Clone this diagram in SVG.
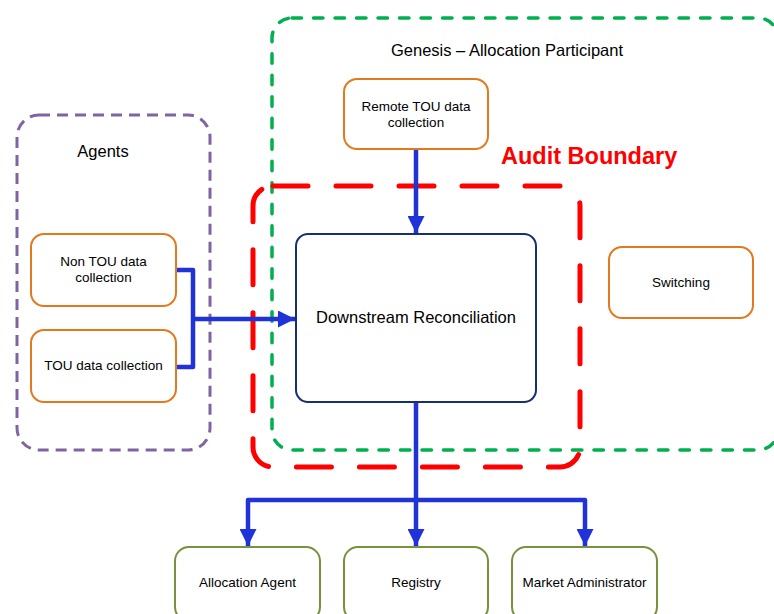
<svg xmlns="http://www.w3.org/2000/svg" width="774" height="614" viewBox="0 0 774 614">
<style>
text{font-family:"Liberation Sans",Arial,sans-serif;fill:#000;text-anchor:middle}
.t13{font-size:13.5px}
.t16{font-size:16.5px}
.audit{font-size:23.5px;font-weight:bold;fill:#FF0000;text-anchor:start}
.orange{fill:#fff;stroke:#E3791E;stroke-width:2}
.olive{fill:#fff;stroke:#76923C;stroke-width:2}
.navy{fill:#fff;stroke:#17306E;stroke-width:2}
.green{fill:none;stroke:#00B050;stroke-width:3.5;stroke-dasharray:9.5 12;stroke-linecap:round}
.red{fill:none;stroke:#FF0000;stroke-width:5;stroke-dasharray:35 28;stroke-linecap:round}
.purple{fill:none;stroke:#8064A2;stroke-width:3;stroke-dasharray:11 7}
.conn{fill:none;stroke:#1F33D8;stroke-width:4.5;stroke-linejoin:round}
</style>
<defs>
<marker id="ah" markerUnits="userSpaceOnUse" markerWidth="17" markerHeight="17" refX="17" refY="8.5" orient="auto">
<path d="M0,0 L17,8.5 L0,17 z" fill="#1F33D8"/>
</marker>
</defs>
<g id="boundaries">
<rect id="genesis-boundary" class="green" x="272" y="18" width="506" height="432" rx="20"/>
<rect id="agents-boundary" class="purple" x="17" y="115" width="193" height="335" rx="22"/>
<rect id="audit-boundary" class="red" x="253" y="186" width="327" height="281" rx="20"/>
<text class="t16" x="507" y="56">Genesis – Allocation Participant</text>
<text class="t16" x="103" y="157">Agents</text>
<text class="audit" x="501" y="164">Audit Boundary</text>
</g>
<g id="connectors">
<path class="conn" d="M416,149 L416,233" marker-end="url(#ah)"/>
<path class="conn" d="M176,270 L193,270 L193,367 L176,367"/>
<path class="conn" d="M193,319 L295,319" marker-end="url(#ah)"/>
<path class="conn" d="M416,402 L416,546" marker-end="url(#ah)"/>
<path class="conn" d="M416,500 L248,500 L248,546" marker-end="url(#ah)"/>
<path class="conn" d="M416,500 L585,500 L585,546" marker-end="url(#ah)"/>
</g>
<g id="remote-tou">
<rect class="orange" x="344" y="79" width="144" height="70" rx="13"/>
<text class="t13" x="416" y="111">Remote TOU data</text>
<text class="t13" x="416" y="127">collection</text>
</g>
<g id="non-tou">
<rect class="orange" x="31" y="234" width="145" height="72" rx="13"/>
<text class="t13" x="103.5" y="266">Non TOU data</text>
<text class="t13" x="103.5" y="282">collection</text>
</g>
<g id="tou">
<rect class="orange" x="31" y="330" width="145" height="72" rx="13"/>
<text class="t13" x="103.5" y="370">TOU data collection</text>
</g>
<g id="downstream">
<rect class="navy" x="296" y="234" width="240" height="168" rx="12"/>
<text class="t16" x="416" y="323">Downstream Reconciliation</text>
</g>
<g id="switching">
<rect class="orange" x="609" y="247" width="144" height="71" rx="13"/>
<text class="t13" x="681" y="287">Switching</text>
</g>
<g id="allocation-agent">
<rect class="olive" x="175" y="547" width="145" height="74" rx="14"/>
<text class="t13" x="247.5" y="587">Allocation Agent</text>
</g>
<g id="registry">
<rect class="olive" x="344" y="547" width="144" height="74" rx="14"/>
<text class="t13" x="416" y="587">Registry</text>
</g>
<g id="market-administrator">
<rect class="olive" x="512" y="547" width="145" height="74" rx="14"/>
<text class="t13" x="584.5" y="587">Market Administrator</text>
</g>
</svg>
